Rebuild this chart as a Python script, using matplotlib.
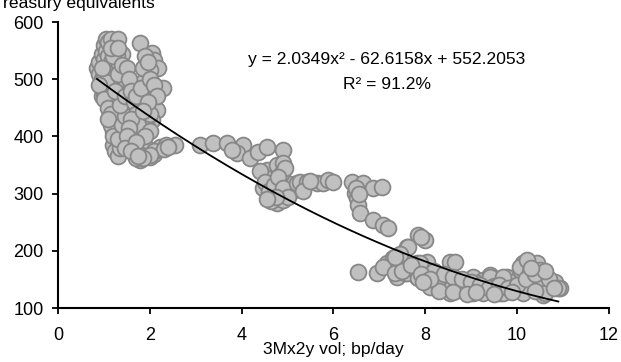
import matplotlib
matplotlib.use("Agg")
import matplotlib.pyplot as plt
import numpy as np

plt.rcParams['font.family'] = ['Liberation Sans', 'DejaVu Sans']

# 3Mx2y vol (bp/day) vs Treasury equivalents
vol = [
    # left band, x ~ 0.8-1.6
    0.85, 0.90, 0.90, 0.95, 0.95, 1.00, 1.00, 1.00, 1.05, 1.05, 1.05, 1.05,
    1.10, 1.10, 1.10, 1.10, 1.15, 1.15, 1.15, 1.15, 1.20, 1.20, 1.20, 1.20,
    1.25, 1.25, 1.25, 1.25, 1.30, 1.30, 1.30, 1.30, 1.30, 1.35, 1.35, 1.35,
    1.35, 1.40, 1.40, 1.40, 1.40, 1.45, 1.45, 1.45, 1.20, 1.15, 1.20, 1.25,
    1.30, 1.35, 1.50, 1.50, 1.50, 1.55, 1.55, 0.95, 1.00, 1.10, 1.20, 1.29,
    1.60, 1.65, 1.60, 1.70,
    1.00, 1.05, 0.90, 0.95, 1.00, 1.10, 1.15, 1.10, 1.20, 1.30, 1.40, 1.45,
    1.35, 1.25, 1.30, 1.20, 1.15, 1.30, 1.40, 1.45,
    # second column, x ~ 1.5-2.6
    1.79, 2.05, 2.10, 2.18, 1.94, 1.85, 2.00, 2.29, 2.16, 2.05, 1.94, 1.80,
    1.75, 1.70, 1.90, 2.00, 1.85, 1.75, 1.65, 1.85, 2.00, 2.22, 2.55, 1.79,
    1.95, 2.10, 2.35, 1.90, 2.05, 1.95, 1.80, 1.70,
    1.50, 1.55, 1.60, 1.65, 1.70, 1.75, 1.60, 1.55, 1.50, 1.45, 1.70, 1.80,
    1.85, 1.90, 1.95, 2.00, 2.10, 2.15, 1.95, 1.85, 2.00, 1.90, 1.70, 1.60,
    2.10, 2.30, 2.40, 2.00, 1.85, 1.75,
    # x ~ 3-4.3
    3.09, 3.38, 3.68, 4.03, 3.90, 4.18, 3.80, 4.36,
    # x ~ 4.4-5.1
    4.55, 4.90, 4.55, 4.77, 4.90, 4.68, 4.47, 4.62, 4.77, 4.90, 4.99, 5.05,
    4.60, 4.70, 4.85, 4.50, 4.80, 4.65, 4.95,
    4.40, 4.50, 4.60, 4.70, 4.80, 4.90, 5.00, 4.75, 4.55,
    # x ~ 5.2-6.1
    5.20, 5.27, 5.42, 5.64, 5.77, 5.88, 5.34, 5.50, 6.00,
    # x ~ 6.4-7.2
    6.40, 6.65, 6.86, 7.06, 6.47, 6.51, 6.54, 6.58, 6.86, 7.08, 7.19, 6.50,
    6.55,
    # x ~ 7.6-8.0
    7.84, 8.00, 7.60, 7.90,
    # low band, x ~ 6.5-11
    6.54, 6.95, 7.17, 7.30, 7.63, 7.39, 7.67, 7.82, 8.04, 8.17, 8.10, 8.54,
    8.39, 8.69, 8.91, 9.04, 9.26, 9.41, 9.63, 9.78, 9.91, 10.07, 10.13, 10.28,
    10.44, 10.50, 10.57, 10.78, 10.94, 10.57, 10.13, 9.26, 8.54, 7.82, 7.56,
    7.08, 7.34, 7.60, 7.73, 7.89, 7.84, 8.47, 8.65, 8.76, 8.98, 8.32, 8.69,
    9.13, 9.41, 9.70, 10.07, 10.22, 10.54, 10.83, 10.89, 10.61, 9.70, 9.04,
    10.28, 8.00, 8.25, 8.85, 9.50, 9.85, 10.35, 10.70,
    8.20, 8.40, 8.60, 8.80, 9.00, 9.20, 9.40, 9.60, 9.80, 10.00, 10.20, 10.40,
    10.60, 10.30, 8.30, 8.60, 8.90, 9.10, 9.50, 9.90, 10.40, 10.80, 7.50, 7.70,
    7.90, 8.10, 7.95, 7.45, 7.35,
]
tsy = [
    520, 530, 510, 545, 500, 560, 535, 490, 570, 550, 520, 475,
    565, 540, 505, 480, 570, 530, 495, 460, 555, 520, 470, 440,
    545, 505, 455, 425, 570, 530, 490, 445, 415, 510, 470, 430,
    400, 545, 480, 440, 395, 500, 455, 410, 410, 420, 385, 375,
    365, 380, 470, 430, 385, 450, 400, 470, 475, 465, 455, 540,
    440, 420, 395, 405,
    510, 495, 490, 520, 465, 450, 440, 430, 400, 395, 420, 435,
    455, 480, 510, 540, 555, 555, 525, 470,
    563, 546, 534, 520, 512, 495, 516, 485, 446, 429, 416, 470,
    450, 430, 460, 440, 381, 371, 371, 395, 364, 381, 385, 359,
    375, 370, 385, 365, 372, 378, 368, 362,
    520, 500, 480, 460, 440, 420, 430, 415, 400, 380, 470, 485,
    520, 540, 530, 500, 490, 470, 460, 445, 410, 400, 390, 375,
    375, 378, 382, 368, 362, 365,
    385, 388, 388, 385, 371, 362, 376, 373,
    381, 376, 341, 350, 353, 324, 310, 294, 284, 289, 318, 301,
    300, 315, 335, 330, 305, 288, 345,
    340, 320, 305, 315, 330, 310, 295, 295, 290,
    318, 320, 320, 318, 318, 324, 305, 322, 320,
    320, 318, 310, 312, 301, 292, 280, 266, 254, 245, 240, 310,
    300,
    228, 219, 207, 224,
    163, 161, 179, 187, 207, 154, 166, 179, 180, 154, 137, 180,
    137, 131, 128, 154, 149, 158, 126, 154, 145, 166, 179, 172,
    179, 166, 144, 144, 135, 123, 126, 126, 126, 154, 161,
    172, 161, 161, 170, 179, 152, 137, 180, 135, 131, 154, 149,
    144, 154, 154, 172, 184, 145, 145, 135, 126, 126, 126,
    163, 150, 145, 140, 138, 135, 160, 150,
    165, 160, 155, 150, 145, 140, 135, 140, 135, 140, 150, 160,
    165, 170, 130, 128, 125, 128, 125, 128, 130, 135, 165, 175,
    160, 150, 145, 195, 190,
]

# fitted quadratic trendline coefficients (from the chart label)
c2, c1, c0 = 2.0349, -62.6158, 552.2053
fit_x = np.linspace(0.85, 10.9, 200)
fit_y = c2 * fit_x**2 + c1 * fit_x + c0

fig = plt.figure(figsize=(6.21, 3.62), dpi=100)
ax = fig.add_axes([0.0934, 0.149, 0.887, 0.790])

ax.scatter(vol, tsy, s=130, facecolor='#c0c0c0', edgecolor='#878787',
           linewidth=1.3, zorder=2, clip_on=False)
ax.plot(fit_x, fit_y, color='black', lw=1.3, zorder=3)

ax.text(7.17, 534, 'y = 2.0349x² - 62.6158x + 552.2053', ha='center',
        va='center', fontsize=12.6)
ax.text(7.17, 490, 'R² = 91.2%', ha='center', va='center', fontsize=12.6)

ax.set_xlim(0, 12)
ax.set_ylim(100, 600)
ax.set_xticks(np.arange(0, 13, 2))
ax.set_yticks(np.arange(100, 601, 100))
ax.spines['top'].set_visible(False)
ax.spines['right'].set_visible(False)
for s in ['left', 'bottom']:
    ax.spines[s].set_linewidth(1.5)
ax.tick_params(direction='out', length=4.5, width=1.3, labelsize=13, pad=6)
ax.tick_params(axis='x', pad=9)
ax.set_xlabel('3Mx2y vol; bp/day', fontsize=12.6, labelpad=-1)

fig.text(-0.012, 0.978, 'Treasury equivalents', fontsize=12.6, va='baseline')

fig.savefig('out.png', dpi=100)
